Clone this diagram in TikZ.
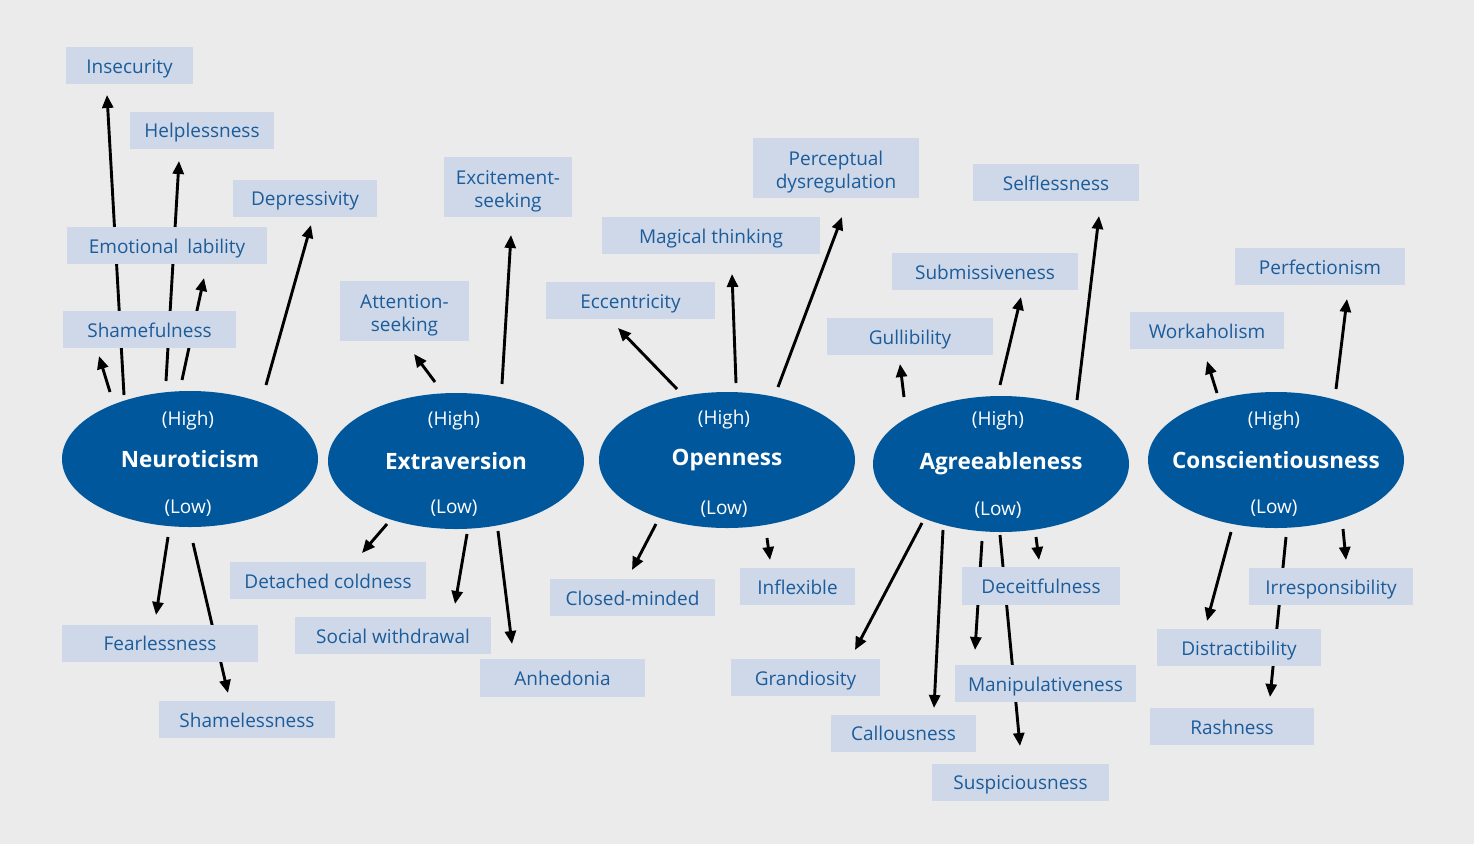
\documentclass[tikz,border=0pt]{standalone}
\usepackage{fontspec}
\setmainfont{Open Sans}
\usetikzlibrary{arrows.meta,shapes.geometric}
\definecolor{bg}{HTML}{EBEBEB}
\definecolor{boxc}{HTML}{CFD8E8}
\definecolor{txt}{HTML}{1B5C9B}
\definecolor{ell}{HTML}{00579B}
\begin{document}
\begin{tikzpicture}[x=1pt,y=-1pt,
 tbox/.style={fill=boxc,text=txt,font=\fontsize{19}{23}\selectfont,inner sep=0pt,minimum height=37pt,align=center,text height=19pt,text depth=4pt},
 tbox2/.style={fill=boxc,text=txt,font=\fontsize{19}{23}\selectfont,inner sep=0pt,minimum height=60pt,align=center,text height=44pt,text depth=4pt},
 trait/.style={ellipse,fill=ell,minimum width=256pt,minimum height=136pt,inner sep=0pt},
 tname/.style={text=white,inner sep=0pt,font=\fontsize{22.5}{26}\selectfont\bfseries},
 pole/.style={text=white,font=\fontsize{19}{21}\selectfont,inner sep=0pt},
 arr/.style={line width=2.9pt,-{Triangle[length=13pt,width=11pt]}}]
\fill[bg] (0,0) rectangle (1474,844);
\useasboundingbox (0,0) rectangle (1474,844);

% ---------- arrow end points ----------
% Neuroticism
\coordinate (n1s) at (124,395); \coordinate (n1e) at (107,95);
\coordinate (n2s) at (166,381); \coordinate (n2e) at (179,161);
\coordinate (n3s) at (182,380); \coordinate (n3e) at (204,278);
\coordinate (n4s) at (266,385); \coordinate (n4e) at (311,225);
\coordinate (n5s) at (110,392); \coordinate (n5e) at (99,356);
\coordinate (n6s) at (168,537); \coordinate (n6e) at (156,615);
\coordinate (n7s) at (193,543); \coordinate (n7e) at (228,693);
% Extraversion
\coordinate (e1s) at (435,382); \coordinate (e1e) at (414,354);
\coordinate (e2s) at (502,384); \coordinate (e2e) at (511,235);
\coordinate (e3s) at (387,524); \coordinate (e3e) at (362,553);
\coordinate (e4s) at (467,534); \coordinate (e4e) at (455,604);
\coordinate (e5s) at (498,531); \coordinate (e5e) at (512,644);
% Openness
\coordinate (o1s) at (677,389); \coordinate (o1e) at (618,328);
\coordinate (o2s) at (736,383); \coordinate (o2e) at (732,274);
\coordinate (o3s) at (778,387); \coordinate (o3e) at (842,217);
\coordinate (o4s) at (656,524); \coordinate (o4e) at (632,570);
\coordinate (o5s) at (767,538); \coordinate (o5e) at (770,560);
% Agreeableness
\coordinate (a1s) at (904,397); \coordinate (a1e) at (900,364);
\coordinate (a2s) at (1000,385); \coordinate (a2e) at (1021,297);
\coordinate (a3s) at (1077,400); \coordinate (a3e) at (1099,216);
\coordinate (a4s) at (922,523); \coordinate (a4e) at (855,650);
\coordinate (a5s) at (943,530); \coordinate (a5e) at (934,708);
\coordinate (a6s) at (982,541); \coordinate (a6e) at (975,650);
\coordinate (a7s) at (1000,535); \coordinate (a7e) at (1020,746);
\coordinate (a8s) at (1036,537); \coordinate (a8e) at (1039,560);
% Conscientiousness
\coordinate (c1s) at (1217,393); \coordinate (c1e) at (1207,361);
\coordinate (c2s) at (1336,389); \coordinate (c2e) at (1347,299);
\coordinate (c3s) at (1231,532); \coordinate (c3e) at (1207,621);
\coordinate (c4s) at (1286,537); \coordinate (c4e) at (1270,697);
\coordinate (c5s) at (1343,529); \coordinate (c5e) at (1346,560);

\foreach \p in {n1,n2,n3,n4,n5,n6,n7,e1,e2,e3,e4,e5,o1,o2,o3,o4,o5,a1,a2,a3,a4,a5,a6,a7,a8,c1,c2,c3,c4,c5}
  \draw[arr] (\p s) -- (\p e);

% ---------- trait ellipses ----------
\node[trait] (neu) at (190,459) {};
\node[trait] (ext) at (456,461) {};
\node[trait] (ope) at (727,460) {};
\node[trait] (agr) at (1001,464) {};
\node[trait] (con) at (1276,460) {};
\node[tname] (neuN) at (neu.center) {Neuroticism};
\node[tname] (extN) at (ext.center) {Extraversion};
\node[tname] (opeN) at (ope.center) {Openness};
\node[tname] (agrN) at (agr.center) {Agreeableness};
\node[tname] (conN) at (con.center) {Conscientiousness};
\node[pole] (neuH) at (188,421) {(High)}; \node[pole] (neuL) at (188,508) {(Low)};
\node[pole] (extH) at (454,421) {(High)}; \node[pole] (extL) at (454,508) {(Low)};
\node[pole] (opeH) at (724,420) {(High)}; \node[pole] (opeL) at (724,509) {(Low)};
\node[pole] (agrH) at (998,421) {(High)}; \node[pole] (agrL) at (998,510) {(Low)};
\node[pole] (conH) at (1274,421) {(High)}; \node[pole] (conL) at (1274,508) {(Low)};

% ---------- facet boxes ----------
\node[tbox,minimum width=127pt] (insec) at (129.5,65.5) {Insecurity};
\node[tbox,minimum width=144pt] (helpl) at (202,130) {Helplessness};
\node[tbox,minimum width=144pt] (depr) at (305,198) {Depressivity};
\node[tbox,minimum width=200pt] (emol) at (167,245.5) {Emotional\hspace{9pt}lability};
\node[tbox,minimum width=173pt] (shamf) at (149.5,329.5) {Shamefulness};
\node[tbox2,minimum width=128pt] (excit) at (508,187) {Excitement-\\seeking};
\node[tbox2,minimum width=129pt] (atten) at (404.5,311) {Attention-\\seeking};
\node[tbox2,minimum width=166pt] (percd) at (836,168) {Perceptual\\dysregulation};
\node[tbox,minimum width=218pt] (magic) at (711,235.5) {Magical thinking};
\node[tbox,minimum width=169pt] (eccen) at (630.5,300.5) {Eccentricity};
\node[tbox,minimum width=166pt] (selfl) at (1056,182.5) {Selflessness};
\node[tbox,minimum width=186pt] (submi) at (985,271.5) {Submissiveness};
\node[tbox,minimum width=166pt] (gulli) at (910,336.5) {Gullibility};
\node[tbox,minimum width=170pt] (perfe) at (1320,266.5) {Perfectionism};
\node[tbox,minimum width=154pt] (worka) at (1207,330.5) {Workaholism};

\node[tbox,minimum width=196pt] (fearl) at (160,643) {Fearlessness};
\node[tbox,minimum width=176pt] (shaml) at (247,719.5) {Shamelessness};
\node[tbox,minimum width=196pt] (detac) at (328,580.5) {Detached coldness};
\node[tbox,minimum width=196pt] (socwd) at (393,635.5) {Social withdrawal};
\node[tbox,minimum width=165pt,minimum height=38pt] (anhed) at (562.5,678) {Anhedonia};
\node[tbox,minimum width=165pt] (closm) at (632.5,597.5) {Closed-minded};
\node[tbox,minimum width=115pt] (infle) at (797.5,586.5) {Inflexible};
\node[tbox,minimum width=149pt] (grand) at (805.5,677.5) {Grandiosity};
\node[tbox,minimum width=145pt] (callo) at (903.5,733) {Callousness};
\node[tbox,minimum width=158pt,minimum height=38pt] (decei) at (1041,586) {Deceitfulness};
\node[tbox,minimum width=181pt] (manip) at (1045.5,683.5) {Manipulativeness};
\node[tbox,minimum width=177pt] (suspi) at (1020.5,782) {Suspiciousness};
\node[tbox,minimum width=164pt] (irres) at (1331,586.5) {Irresponsibility};
\node[tbox,minimum width=164pt] (distr) at (1239,647.5) {Distractibility};
\node[tbox,minimum width=164pt] (rashn) at (1232,726.5) {Rashness};
\end{tikzpicture}
\end{document}
